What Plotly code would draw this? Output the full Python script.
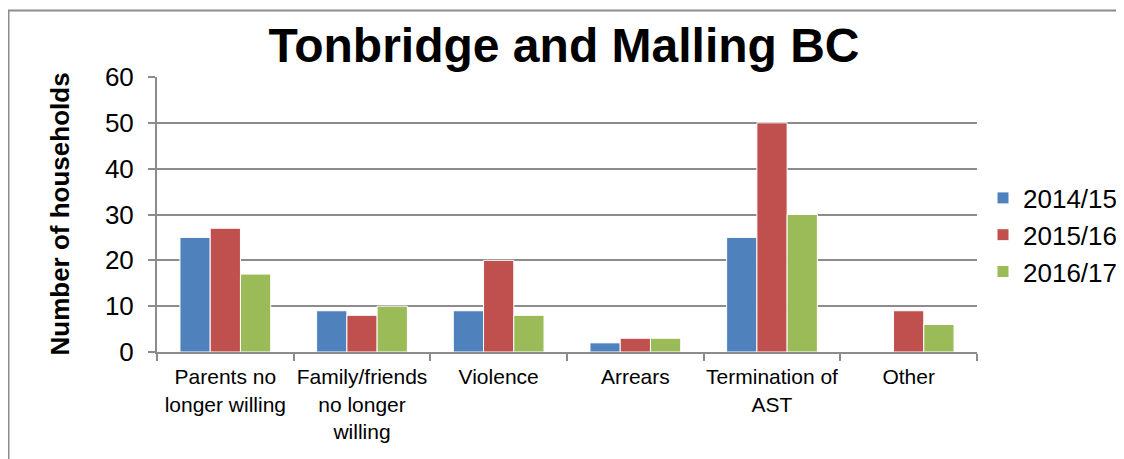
import plotly.graph_objects as go

categories = ["Parents no<br>longer willing", "Family/friends<br>no longer<br>willing", "Violence",
              "Arrears", "Termination of<br>AST", "Other"]
series_names = ["2014/15", "2015/16", "2016/17"]
v_2014 = [25, 9, 9, 2, 25, 0]
v_2015 = [27, 8, 20, 3, 50, 9]
v_2016 = [17, 10, 8, 3, 30, 6]
colors = ["#4F81BD", "#C0504D", "#9BBB59"]
y_ticks = [0, 10, 20, 30, 40, 50, 60]

OFF = 8  # page body margin
W, H = 1124 - OFF, 459 - OFF
L, R, T, B = 157 - OFF, 977 - OFF, 77 - OFF, 352 - OFF

fig = go.Figure()
for name, vals, c in zip(series_names, [v_2014, v_2015, v_2016], colors):
    fig.add_trace(go.Bar(x=categories, y=vals, name=name,
                         marker=dict(color=c, line=dict(color="white", width=1))))

def px_x(x):
    return (x - OFF - L) / (R - L)

def px_y(y):
    return (B - (y - OFF)) / (B - T)

fig.update_layout(
    width=W, height=H,
    margin=dict(l=L, r=W - R, t=T, b=H - B, autoexpand=False),
    paper_bgcolor="white", plot_bgcolor="white",
    font=dict(family="Liberation Sans, Arial, sans-serif", color="black"),
    barmode="group", bargap=0.336, bargroupgap=0,
    title=dict(text="<b>Tonbridge and Malling BC</b>", font=dict(size=48, color="black"),
               x=px_x(564), xref="paper", xanchor="center",
               y=1 - (45 - OFF) / H, yref="container", yanchor="middle"),
    legend=dict(x=px_x(983), y=px_y(235), xanchor="left", yanchor="middle",
                font=dict(size=26), itemwidth=30, tracegroupgap=0),
    showlegend=True,
)
fig.update_yaxes(range=[0, 60], tickvals=y_ticks, showgrid=True, gridcolor="#8C8C8C", gridwidth=1.5,
                 showline=True, linecolor="#8C8C8C", linewidth=2,
                 ticks="outside", ticklen=7, tickcolor="#8C8C8C", tickwidth=1.5,
                 tickfont=dict(size=26), zeroline=False, ticklabelstandoff=9)
fig.update_xaxes(showgrid=False, showline=True, linecolor="#8C8C8C", linewidth=2,
                 ticks="outside", tickson="boundaries", ticklen=7, tickcolor="#8C8C8C", tickwidth=1.5,
                 tickfont=dict(size=21), tickangle=0, ticklabelstandoff=5)

fig.add_annotation(text="<b>Number of households</b>", textangle=-90,
                   x=px_x(59), y=0.5, xref="paper", yref="paper",
                   showarrow=False, font=dict(size=26), xanchor="center", yanchor="middle")

fig.add_shape(type="rect", xref="paper", yref="paper",
              x0=px_x(OFF + 0.5), x1=px_x(1140), y0=px_y(480), y1=px_y(10.5),
              line=dict(color="#8C8C8C", width=2), fillcolor="rgba(0,0,0,0)", layer="below")

fig.write_html("out.html")
